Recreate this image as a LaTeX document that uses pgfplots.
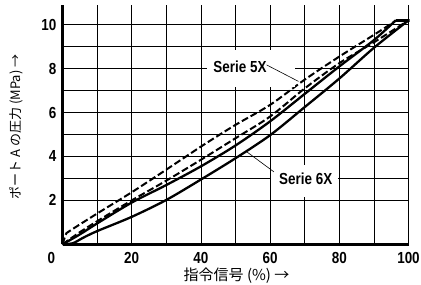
\documentclass[border=0pt]{standalone}
\usepackage{fontspec}
\setmainfont{Liberation Sans}[FakeStretch=0.84]
\newfontfamily\cjk{Noto Sans CJK JP}
\usepackage{pgfplots}
\pgfplotsset{compat=1.18}
\begin{document}
\begin{tikzpicture}
\path[use as bounding box] (0,0) rectangle (421bp,285bp);
\begin{axis}[
  at={(62.5bp,40.7bp)}, anchor=south west,
  scale only axis, width=346bp, height=239.3bp,
  xmin=0, xmax=100, ymin=0, ymax=10.9,
  axis x line*=bottom, axis y line*=left,
  axis line style={line width=2.5bp, -},
  xtick={0,20,...,100}, ytick={2,4,...,10},
  xticklabels={\makebox[0pt][r]{0\hspace{7.5bp}},20,40,60,80,100},
  minor x tick num=1, minor y tick num=1,
  major tick length=0pt, minor tick length=0pt,
  grid=both,
  major grid style={black, line width=0.8bp},
  minor grid style={black, line width=0.8bp},
  /pgf/number format/assume math mode=true,
  tick label style={font=\fontsize{16bp}{18bp}\selectfont\bfseries},
  xticklabel style={anchor=north, inner sep=0pt, yshift=-8bp},
  yticklabel style={anchor=east, inner sep=0pt, xshift=-6bp},
  xlabel={指令信号 (\%) →},
  ylabel={ポート A の圧力 (MPa) →},
  xlabel style={font=\cjk\fontsize{15bp}{17bp}\selectfont, at={(axis description cs:0.503,-0.130)}, anchor=center},
  ylabel style={font=\cjk\fontsize{13bp}{15bp}\selectfont, at={(axis description cs:-0.1324,0.491)}, anchor=center},
  clip=false,
]
% Serie 6X rising (lower solid)
\addplot[black, line width=2.3bp, smooth, tension=0.5] coordinates {
 (0,0) (3,0.05) (6,0.3) (10,0.6) (20,1.25) (30,2.02) (40,2.95) (50,3.92)
 (60,4.97) (70,6.25) (80,7.55) (90,8.95) (100,10.2)};
% Serie 6X falling (upper solid)
\addplot[black, line width=2.3bp, smooth, tension=0.5] coordinates {
 (0,0) (5,0.45) (10,0.95) (20,1.9) (30,2.7) (40,3.55) (50,4.5) (60,5.6)
 (70,6.85) (80,8.1) (90,9.3) (96.3,10.2)};
\addplot[black, line width=2.3bp] coordinates {(96.3,10.2) (100.3,10.2) (100,10.2)};
% Serie 5X lower dashed
\addplot[black, line width=2bp, dash pattern=on 7bp off 3bp, smooth, tension=0.5] coordinates {
 (0,0) (5,0.55) (10,1.05) (20,2.0) (30,2.9) (40,3.85) (50,4.83) (60,5.82)
 (70,7.1) (80,8.25) (90,9.2) (100,10.2)};
% Serie 5X upper dashed
\addplot[black, line width=2bp, dash pattern=on 7bp off 3bp, smooth, tension=0.5] coordinates {
 (0,0) (1,0.45) (2,0.6) (10,1.4) (20,2.37) (30,3.4) (40,4.45) (50,5.44)
 (60,6.35) (70,7.5) (80,8.55) (90,9.54) (96.5,10.2)};
% annotations
\fill[white] (axis cs:41.7,7.15) rectangle (axis cs:67.2,8.85);
\fill[white] (axis cs:60.4,2.17) rectangle (axis cs:79.7,3.6);
\draw[black, line width=0.6bp] (axis cs:59,8.17) -- (axis cs:68.2,7.42);
\draw[black, line width=0.6bp] (axis cs:61.1,3.3) -- (axis cs:53.2,4.22);
\node[font=\fontsize{16bp}{18bp}\selectfont\bfseries, inner sep=0pt] at (axis cs:51.3,8.1) {Serie 5X};
\node[font=\fontsize{16bp}{18bp}\selectfont\bfseries, inner sep=0pt] at (axis cs:70.3,3.0) {Serie 6X};
\end{axis}
\end{tikzpicture}
\end{document}
